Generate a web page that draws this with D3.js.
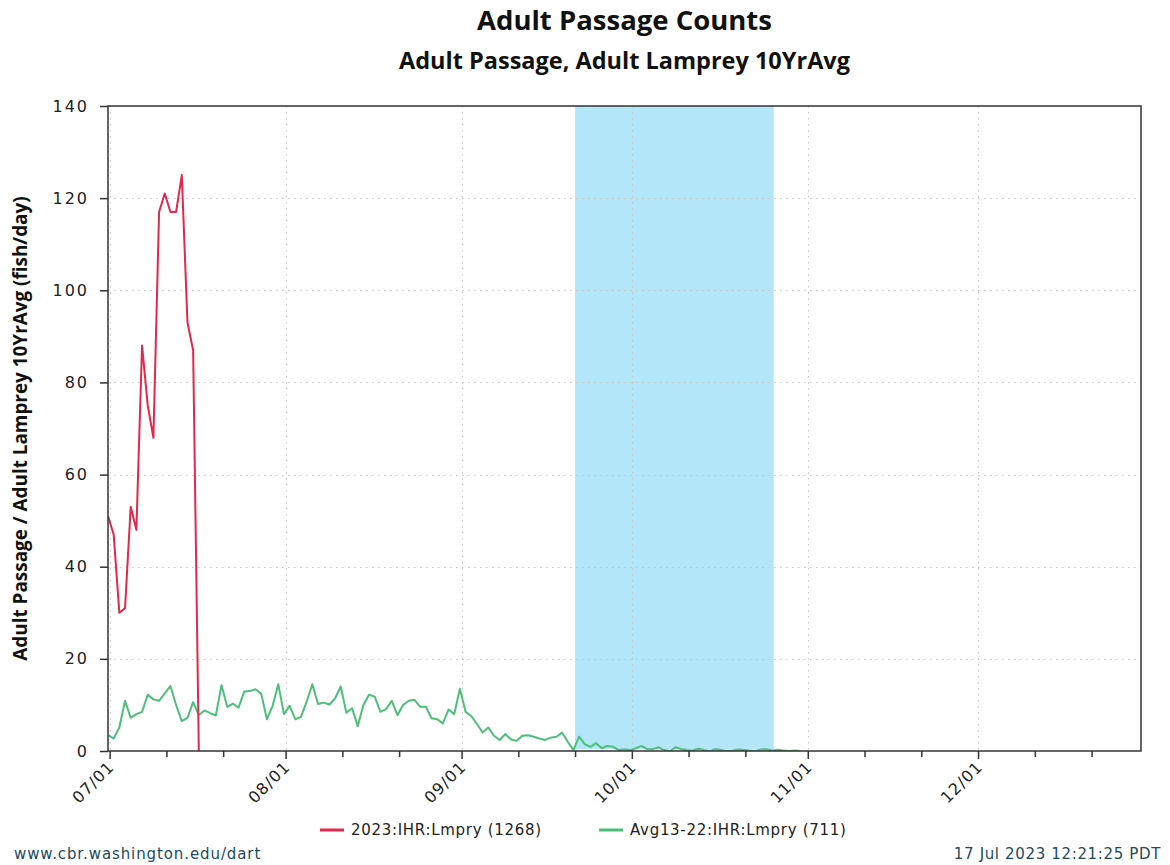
<!DOCTYPE html>
<html>
<head>
<meta charset="utf-8">
<script src="https://cdn.jsdelivr.net/npm/d3@7"></script>
<style>
  html, body { margin: 0; padding: 0; background: #fff; }
  svg { display: block; }
</style>
</head>
<body>
<svg id="chart" width="1170" height="865"></svg>
<script>
// Daily adult lamprey passage at Ice Harbor Dam: 2023 season vs 2013-2022 average.
const seriesStart = "2023-07-01";           // first daily value (UTC day)
const lamprey2023 = [51, 47, 30, 31, 53, 48, 88, 75, 68, 117, 121, 117, 117, 125, 93, 87, 0];
const lampreyAvg13_22 = [
  3.5, 2.7, 5.1, 10.9, 7.2, 8.0, 8.5, 12.2, 11.2, 10.9, 12.5, 14.1, 10.0, 6.5, 7.2, 10.6, 7.8, 8.8, 8.2, 7.7, 14.3,
  9.6, 10.3, 9.4, 12.9, 13.0, 13.4, 12.4, 6.9, 9.8, 14.5, 8.0, 9.8, 6.9, 7.4, 10.7, 14.5, 10.2, 10.5, 10.1, 11.4, 14.0,
  8.3, 9.3, 5.4, 10.0, 12.2, 11.8, 8.5, 9.1, 10.9, 7.8, 10.0, 10.9, 11.1, 9.6, 9.6, 7.1, 6.9, 6.0, 9.0, 8.0,
  13.5, 8.5, 7.6, 5.9, 4.0, 5.1, 3.3, 2.4, 3.7, 2.5, 2.2, 3.3, 3.4, 3.1, 2.7, 2.4, 2.9, 3.1, 4.0, 2.0, 0.2,
  3.1, 1.5, 0.9, 1.7, 0.6, 1.1, 0.9, 0.2, 0.3, 0.2, 0.6, 1.1, 0.4, 0.4, 0.8, 0.2, 0.0, 0.8, 0.4, 0.2,
  0.1, 0.5, 0.2, 0.0, 0.4, 0.2, 0.0, 0.1, 0.3, 0.2, 0.1, 0.0, 0.3, 0.4, 0.1, 0.3, 0.1, 0.0, 0.1, 0.0
];
const seriesNames = ["2023:IHR:Lmpry (1268)", "Avg13-22:IHR:Lmpry (711)"];
const seriesColors = ["#e3284b", "#4dbf7b"];

const yTicks = [0, 20, 40, 60, 80, 100, 120, 140];
const monthTickLabels = ["07/01", "08/01", "09/01", "10/01", "11/01", "12/01"];
const minorTickLabels = ["07/11", "07/21", "08/11", "08/21", "09/11", "09/21",
                         "10/11", "10/21", "11/11", "11/21", "12/11", "12/21"];
const shadedPeriod = ["09/21", "10/26"];
const domainDays = ["2023-07-01", "2023-12-30"];

const titleText = "Adult Passage Counts";
const subtitleText = "Adult Passage, Adult Lamprey 10YrAvg";
const yAxisTitle = "Adult Passage / Adult Lamprey 10YrAvg (fish/day)";
const footerLeft = "www.cbr.washington.edu/dart";
const footerRight = "17 Jul 2023 12:21:25 PDT";

// ---- layout ----
const W = 1170, H = 865;
const plot = { left: 108, right: 1141, top: 106, bottom: 751 };
const PDT_OFFSET_H = 7;   // calendar ticks fall on local (Pacific) midnight

const svg = d3.select("#chart");
svg.append("rect").attr("width", W).attr("height", H).attr("fill", "#fff");

const parseDay = d3.utcParse("%Y-%m-%d");
const x = d3.scaleUtc()
  .domain(domainDays.map(parseDay))
  .range([plot.left, plot.right]);
const y = d3.scaleLinear()
  .domain([0, 140])
  .range([plot.bottom, plot.top]);

const start = parseDay(seriesStart);
const dayAt = i => d3.utcDay.offset(start, i);
const localTick = s => {
  const [m, d] = s.split("/").map(Number);
  return new Date(Date.UTC(2023, m - 1, d, PDT_OFFSET_H));
};
const tickFmt = d3.utcFormat("%m/%d");

// ---- shaded period ----
svg.append("rect")
  .attr("x", x(localTick(shadedPeriod[0])))
  .attr("y", plot.top)
  .attr("width", x(localTick(shadedPeriod[1])) - x(localTick(shadedPeriod[0])))
  .attr("height", plot.bottom - plot.top - 2)
  .attr("fill", "#b2e6f8");

// ---- grid ----
const grid = svg.append("g").attr("stroke", "#c4c4c4").attr("stroke-width", 1)
  .attr("stroke-dasharray", "1.5,4.5");
grid.selectAll("line.h").data(yTicks.filter(v => v > 0 && v < 140)).join("line")
  .attr("x1", plot.left).attr("x2", plot.right)
  .attr("y1", d => Math.round(y(d)) + 0.5).attr("y2", d => Math.round(y(d)) + 0.5);
grid.selectAll("line.v").data(monthTickLabels.map(localTick)).join("line")
  .attr("x1", d => Math.round(x(d)) + 0.5).attr("x2", d => Math.round(x(d)) + 0.5)
  .attr("y1", plot.top).attr("y2", plot.bottom);

// ---- series ----
svg.append("clipPath").attr("id", "plotClip").append("rect")
  .attr("x", plot.left).attr("y", plot.top)
  .attr("width", plot.right - plot.left).attr("height", plot.bottom - plot.top);

const line = d3.line().x((d, i) => x(dayAt(i))).y(d => y(d));
const series = svg.append("g").attr("clip-path", "url(#plotClip)")
  .attr("fill", "none").attr("stroke-width", 2).attr("stroke-linejoin", "round");
series.append("path").datum(lampreyAvg13_22).attr("stroke", seriesColors[1]).attr("d", line);
series.append("path").datum(lamprey2023).attr("stroke", seriesColors[0]).attr("d", line);

// ---- axes ----
const axisColor = "#333";
const tickFont = "'DejaVu Sans', sans-serif";

const yAxis = svg.append("g").attr("transform", `translate(${plot.left},0)`)
  .call(d3.axisLeft(y).tickValues(yTicks).tickSize(8).tickPadding(11).tickFormat(d3.format("d")));
yAxis.select(".domain").remove();
yAxis.selectAll(".tick line").attr("stroke", axisColor).attr("stroke-width", 1.5);
yAxis.selectAll(".tick text").attr("fill", "#222").style("font-family", tickFont)
  .style("font-size", "16px").style("letter-spacing", "2px");

const xAxis = svg.append("g").attr("transform", `translate(0,${plot.bottom})`)
  .call(d3.axisBottom(x).tickValues(monthTickLabels.map(localTick)).tickSize(8).tickFormat(tickFmt));
xAxis.select(".domain").remove();
xAxis.selectAll(".tick line").attr("stroke", axisColor).attr("stroke-width", 1.5);
xAxis.selectAll(".tick text")
  .attr("fill", "#222").style("font-family", tickFont).style("font-size", "16px")
  .style("letter-spacing", "1px")
  .attr("text-anchor", "end")
  .attr("dy", null)
  .attr("y", 0)
  .attr("transform", "translate(5,17) rotate(-45)");

const xMinor = svg.append("g").attr("transform", `translate(0,${plot.bottom})`)
  .call(d3.axisBottom(x).tickValues(minorTickLabels.map(localTick)).tickSize(6).tickFormat(""));
xMinor.select(".domain").remove();
xMinor.selectAll(".tick line").attr("stroke", axisColor).attr("stroke-width", 1.5);

// plot frame
svg.append("rect")
  .attr("x", plot.left).attr("y", plot.top)
  .attr("width", plot.right - plot.left).attr("height", plot.bottom - plot.top)
  .attr("fill", "none").attr("stroke", axisColor).attr("stroke-width", 1.5);

// ---- titles ----
const cx = (plot.left + plot.right) / 2;
svg.append("text").attr("x", cx).attr("y", 30).attr("text-anchor", "middle")
  .style("font-family", "'Open Sans', sans-serif").style("font-weight", 700)
  .style("font-size", "27.5px").attr("fill", "#111").text(titleText);
svg.append("text").attr("x", cx).attr("y", 69).attr("text-anchor", "middle")
  .style("font-family", "'Open Sans', sans-serif").style("font-weight", 700)
  .style("font-size", "23.5px").attr("fill", "#111").text(subtitleText);
svg.append("text")
  .attr("transform", `translate(27,${(plot.top + plot.bottom) / 2}) rotate(-90)`)
  .attr("text-anchor", "middle")
  .style("font-family", "'Open Sans', sans-serif").style("font-weight", 700)
  .style("font-size", "18.9px").attr("fill", "#111").text(yAxisTitle);

// ---- legend ----
const legend = svg.append("g").style("font-family", tickFont).style("font-size", "15px");
const legendItems = [{ x: 320, name: seriesNames[0], color: seriesColors[0] },
                     { x: 599, name: seriesNames[1], color: seriesColors[1] }];
legendItems.forEach(it => {
  legend.append("line").attr("x1", it.x).attr("x2", it.x + 24)
    .attr("y1", 830).attr("y2", 830).attr("stroke", it.color).attr("stroke-width", 3);
  legend.append("text").attr("x", it.x + 31).attr("y", 835).attr("fill", "#222")
    .style("letter-spacing", "0.7px").text(it.name);
});

// ---- footer ----
svg.append("text").attr("x", 14).attr("y", 859)
  .style("font-family", tickFont).style("font-size", "15px").attr("fill", "#1d4a5c")
  .style("letter-spacing", "0.9px")
  .text(footerLeft);
svg.append("text").attr("x", 1161).attr("y", 859).attr("text-anchor", "end")
  .style("font-family", tickFont).style("font-size", "15px").attr("fill", "#1d4a5c")
  .style("letter-spacing", "0.65px")
  .text(footerRight);
</script>
</body>
</html>
